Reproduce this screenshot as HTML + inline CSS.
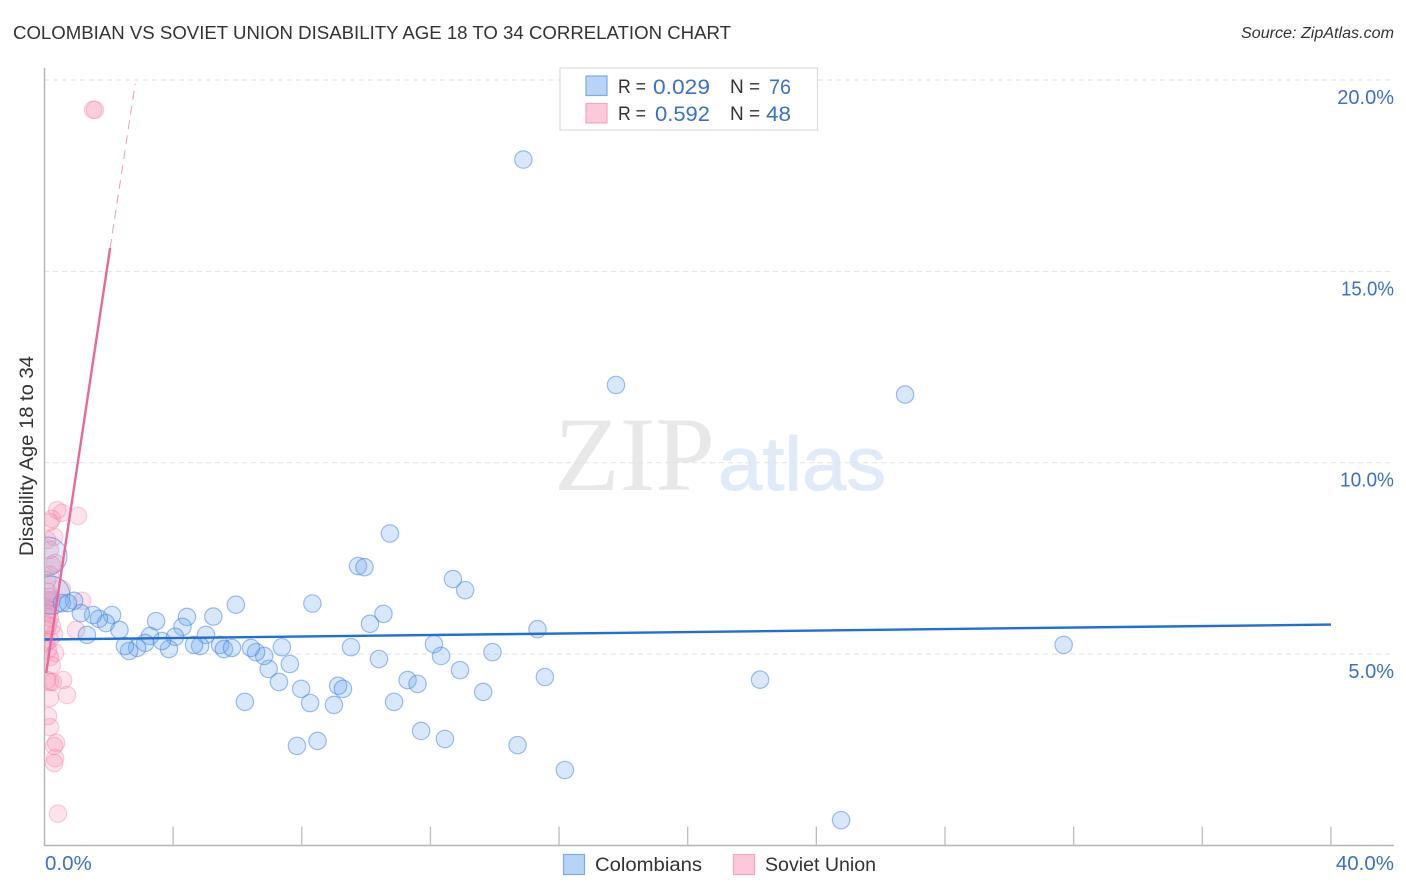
<!DOCTYPE html>
<html lang="en">
<head>
<meta charset="utf-8">
<title>Colombian vs Soviet Union Disability Age 18 to 34 Correlation Chart</title>
<style>
html,body{margin:0;padding:0;background:#fff;}
svg{display:block;font-family:"Liberation Sans",sans-serif;}
</style>
</head>
<body>
<svg id="chart" xmlns="http://www.w3.org/2000/svg" width="1406" height="892" viewBox="0 0 1406 892">
  <defs>
    <clipPath id="plot-clip"><rect x="45" y="60" width="1349" height="785"/></clipPath>
  </defs>
  <rect width="1406" height="892" fill="#ffffff"/>
  <text x="13" y="39" font-size="18.5" fill="#333" textLength="718" lengthAdjust="spacingAndGlyphs">COLOMBIAN VS SOVIET UNION DISABILITY AGE 18 TO 34 CORRELATION CHART</text>
  <text x="1394" y="38" font-size="15.5" font-style="italic" fill="#333" text-anchor="end" textLength="153" lengthAdjust="spacingAndGlyphs">Source: ZipAtlas.com</text>

  <g id="watermark">
    <text x="554" y="490" font-family="'Liberation Serif',serif" font-size="106" fill="#e8e8e8" textLength="161" lengthAdjust="spacingAndGlyphs">ZIP</text>
    <text x="718" y="490" font-size="76" fill="#e1eaf8" stroke="#e1eaf8" stroke-width="1" textLength="168" lengthAdjust="spacingAndGlyphs">atlas</text>
  </g>

  <g id="grid"></g>
  <g id="axes"></g>
  <g id="marks" clip-path="url(#plot-clip)"></g>
  <g id="trends"></g>
  <g id="ticks"></g>

  <g>
    <rect x="560" y="68" width="257.5" height="62" fill="#fff" fill-opacity="0.9" stroke="#dcdcdc" stroke-width="1.2"/>
    <rect x="586" y="76" width="21" height="19.5" fill="#b7d3f6" stroke="#7fabe6" stroke-width="1.2"/>
    <rect x="586" y="103.5" width="21" height="19.5" fill="#fdc9da" stroke="#f4a6c0" stroke-width="1.2"/>
    <text x="618" y="93" font-size="19" fill="#333" textLength="28" lengthAdjust="spacingAndGlyphs">R =</text>
    <text x="653" y="94" font-size="21" fill="#3b71cc" textLength="57" lengthAdjust="spacingAndGlyphs">0.029</text>
    <text x="730" y="93" font-size="19" fill="#333">N =</text>
    <text x="769" y="94" font-size="21" fill="#3b71cc" textLength="22" lengthAdjust="spacingAndGlyphs">76</text>
    <text x="618" y="120" font-size="19" fill="#333" textLength="28" lengthAdjust="spacingAndGlyphs">R =</text>
    <text x="655" y="121" font-size="21" fill="#3b71cc" textLength="55" lengthAdjust="spacingAndGlyphs">0.592</text>
    <text x="730" y="120" font-size="19" fill="#333">N =</text>
    <text x="766" y="121" font-size="21" fill="#3b71cc" textLength="25" lengthAdjust="spacingAndGlyphs">48</text>
  </g>

  <text transform="translate(33,456) rotate(-90)" font-size="19" fill="#333" text-anchor="middle" textLength="200" lengthAdjust="spacingAndGlyphs">Disability Age 18 to 34</text>

  <g>
    <g>
      <rect x="563.5" y="854.5" width="21" height="20" fill="#b7d3f6" stroke="#7fabe6" stroke-width="1.2"/>
      <text x="595" y="871" font-size="19.5" fill="#333" textLength="107" lengthAdjust="spacingAndGlyphs">Colombians</text>
    </g>
    <g>
      <rect x="733.5" y="854.5" width="21" height="20" fill="#fdc9da" stroke="#f4a6c0" stroke-width="1.2"/>
      <text x="765" y="871" font-size="19.5" fill="#333" textLength="111" lengthAdjust="spacingAndGlyphs">Soviet Union</text>
    </g>
  </g>
</svg>
<script>
const xTickValues = [0, 4, 8, 12, 16, 20, 24, 28, 32, 36, 40];
const xLabelValues = ["0.0%", "40.0%"];
const yTickValues = [5, 10, 15, 20];
const yTickLabels = ["5.0%", "10.0%", "15.0%", "20.0%"];

const colombianX = [14.89,17.77,26.76,31.69,22.25,24.77,16.18,14.71,12.45,11.71,10.87,13.64,15.56,12.92,13.93,12.33,12.11,15.33,13.08,12.70,10.74,10.54,10.12,8.33,9.75,9.95,9.53,10.40,11.29,11.60,9.13,9.28,9.00,8.26,7.98,7.29,6.97,7.63,6.83,6.58,6.42,7.38,6.23,7.85,8.49,5.95,5.25,4.43,4.29,3.47,5.02,5.46,5.58,5.83,4.84,4.65,4.06,3.87,3.65,3.28,3.13,2.88,2.63,2.50,2.33,2.10,1.91,1.69,1.51,1.32,1.13,0.92,0.54,0.73];
const colombianY = [17.92,12.03,11.78,5.24,4.33,0.66,1.97,2.62,2.78,2.99,3.75,4.01,4.40,4.58,5.05,4.95,5.26,5.65,6.67,6.96,8.15,6.05,5.79,6.32,7.30,7.27,5.18,4.87,4.32,4.22,4.17,4.09,3.67,3.72,4.09,4.27,4.61,4.74,4.95,5.05,5.16,5.18,3.75,2.60,2.73,6.29,5.98,5.97,5.71,5.86,5.50,5.24,5.13,5.16,5.21,5.24,5.45,5.13,5.34,5.47,5.29,5.16,5.08,5.21,5.63,6.02,5.81,5.92,6.02,5.50,6.07,6.39,6.33,6.33];
const colombianLargeX = [0.11,0.20];
const colombianLargeY = [7.56,6.54];

const sovietX = [1.51,1.57,1.04,0.54,0.39,0.23,0.17,0.30,0.08,0.33,0.17,0.08,0.54,0.23,1.17,0.17,0.05,0.08,0.17,0.98,0.23,0.30,0.05,0.11,0.33,0.17,0.23,0.58,0.26,0.17,0.08,0.70,0.17,0.11,0.17,0.36,0.30,0.33,0.30,0.42,0.11,0.05,0.23,0.17,0.11,0.17,0.17,0.08];
const sovietY = [19.22,19.22,8.61,8.69,8.76,8.53,8.45,8.06,7.98,7.38,7.07,6.93,6.70,6.41,6.39,6.49,6.23,6.07,5.94,5.63,5.73,5.52,5.29,5.11,5.03,4.92,4.71,4.32,4.27,4.27,4.32,3.93,3.85,3.38,3.09,2.68,2.60,2.28,2.15,0.83,6.62,5.63,7.33,6.15,5.76,5.37,7.72,6.41];

const colombianTrendX = [0, 40];
const colombianTrendY = [5.38, 5.77];
const sovietTrendX = [0.05, 2.04];
const sovietTrendY = [4.5, 15.61];
const sovietDashX = [2.04, 2.82];
const sovietDashY = [15.61, 19.9];

const SVG_NS = 'http://www.w3.org/2000/svg';
function xScale(v) { return 44.5 + v * 32.16; }
function yScale(v) { return 845.4 - v * 38.27; }
function make(tag, attrs, parent) {
  const el = document.createElementNS(SVG_NS, tag);
  for (const k in attrs) el.setAttribute(k, attrs[k]);
  parent.appendChild(el);
  return el;
}

const gridG = document.getElementById('grid');
yTickValues.forEach(function (v) {
  const line = make('line', {x1: 44, x2: 1394, y1: yScale(v), y2: yScale(v), stroke: '#e2e2e2', 'stroke-width': 1, 'stroke-dasharray': '5 4'}, gridG);
  
  
});

const axesG = document.getElementById('axes');
const yAxis = make('line', {x1: 44.5, x2: 44.5, y1: 68, y2: 846, stroke: '#b4b4b4', 'stroke-width': 1.4}, axesG);


const xAxis = make('line', {x1: 44, x2: 1394, y1: 845.5, y2: 845.5, stroke: '#b4b4b4', 'stroke-width': 1.4}, axesG);


xTickValues.slice(1).forEach(function (v) {
  const t = make('line', {x1: xScale(v), x2: xScale(v), y1: 826.5, y2: 845.5, stroke: '#bdbdbd', 'stroke-width': 1.3}, axesG);
  
  
});

const marksG = document.getElementById('marks');
function drawPoint(x, y, r, fill, stroke, name) {
  const c = make('circle', {cx: xScale(x), cy: yScale(y), r: r, fill: fill, stroke: stroke, 'stroke-width': 1.2}, marksG);
  
  
}
const blueFill = 'rgba(110,165,235,0.27)';
const blueStroke = 'rgba(55,125,225,0.48)';
const pinkFill = 'rgba(247,140,175,0.24)';
const pinkStroke = 'rgba(240,125,165,0.36)';
const blueBigFill = 'rgba(110,165,235,0.2)';
sovietX.forEach(function (x, i) {
  drawPoint(x, sovietY[i], 8.7, pinkFill, pinkStroke, 'soviet-union-point');
});
colombianLargeX.forEach(function (x, i) {
  drawPoint(x, colombianLargeY[i], 19, blueBigFill, blueStroke, 'colombian-large-point');
});
colombianX.forEach(function (x, i) {
  drawPoint(x, colombianY[i], 8.7, blueFill, blueStroke, 'colombian-point');
});

const trendsG = document.getElementById('trends');
const blueTrend = make('line', {x1: xScale(colombianTrendX[0]), y1: yScale(colombianTrendY[0]), x2: xScale(colombianTrendX[1]), y2: yScale(colombianTrendY[1]), stroke: '#1f6fd6', 'stroke-width': 2.4}, trendsG);


const pinkTrend = make('line', {x1: xScale(sovietTrendX[0]), y1: yScale(sovietTrendY[0]), x2: xScale(sovietTrendX[1]), y2: yScale(sovietTrendY[1]), stroke: '#e8689b', 'stroke-width': 2.4}, trendsG);


const pinkDash = make('line', {x1: xScale(sovietDashX[0]), y1: yScale(sovietDashY[0]), x2: xScale(sovietDashX[1]), y2: yScale(sovietDashY[1]), stroke: '#ee9bbc', 'stroke-width': 1, 'stroke-dasharray': '9 6'}, trendsG);



const ticksG = document.getElementById('ticks');
yTickValues.forEach(function (v, i) {
  const label = yTickLabels[i];
  const t = make('text', {x: 1394, y: yScale(v) + 24, 'font-size': 20, fill: '#3b71cc', 'text-anchor': 'end'}, ticksG);
  if (label.charAt(0) === '1') {
    t.setAttribute('textLength', label.charAt(1) === '5' ? 53 : 54);
    t.setAttribute('lengthAdjust', 'spacingAndGlyphs');
  }
  t.textContent = label;
  
  
});
const x0Label = make('text', {x: 45, y: 870, 'font-size': 20.5, fill: '#3b71cc'}, ticksG);
x0Label.textContent = xLabelValues[0];


const x1Label = make('text', {x: 1394, y: 870, 'font-size': 20.5, fill: '#3b71cc', 'text-anchor': 'end'}, ticksG);
x1Label.textContent = xLabelValues[1];


</script>
</body>
</html>
